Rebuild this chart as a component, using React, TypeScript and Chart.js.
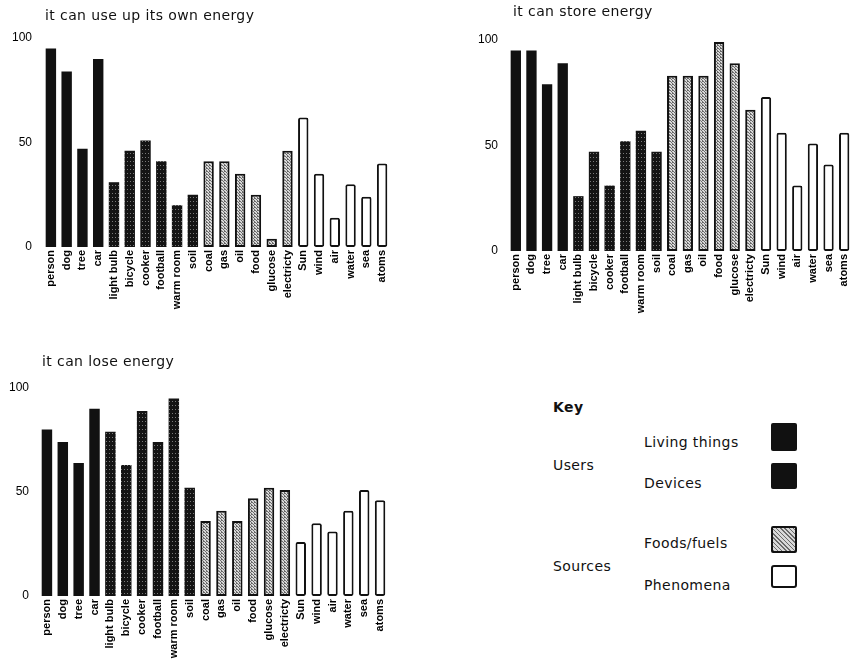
import React, { useEffect, useRef } from 'react';
import { Chart, registerables } from 'chart.js';

Chart.register(...registerables);

const categories = ['person', 'dog', 'tree', 'car', 'light bulb', 'bicycle', 'cooker', 'football', 'warm room', 'soil', 'coal', 'gas', 'oil', 'food', 'glucose', 'electricty', 'Sun', 'wind', 'air', 'water', 'sea', 'atoms'];
const groups = ['living', 'living', 'living', 'living', 'device', 'device', 'device', 'device', 'device', 'device', 'fuel', 'fuel', 'fuel', 'fuel', 'fuel', 'fuel', 'phenomenon', 'phenomenon', 'phenomenon', 'phenomenon', 'phenomenon', 'phenomenon'];
const useUpValues = [95, 84, 47, 90, 31, 46, 51, 41, 20, 25, 41, 41, 35, 25, 4, 46, 62, 35, 14, 30, 24, 40];
const storeValues = [95, 95, 79, 89, 26, 47, 31, 52, 57, 47, 83, 83, 83, 99, 89, 67, 73, 56, 31, 51, 41, 56];
const loseValues = [80, 74, 64, 90, 79, 63, 89, 74, 95, 52, 36, 41, 36, 47, 52, 51, 26, 35, 31, 41, 51, 46];
const yTicks = [0, 50, 100];
const titles = ['it can use up its own energy', 'it can store energy', 'it can lose energy'];
const keyTitle = 'Key';
const keyGroups = ['Users', 'Sources'];
const keyItems = ['Living things', 'Devices', 'Foods/fuels', 'Phenomena'];

const TEXT_FONT = '"DejaVu Sans", Verdana, sans-serif';
const TICK_FONT = '"Liberation Sans", Arial, sans-serif';

function makePattern(bg: string, dot: string, w: number, h: number, dots: number[][]) {
  const c = document.createElement('canvas');
  c.width = w;
  c.height = h;
  const x = c.getContext('2d')!;
  x.fillStyle = bg;
  x.fillRect(0, 0, w, h);
  x.fillStyle = dot;
  dots.forEach(([a, b]) => x.fillRect(a, b, 1, 1));
  return x.createPattern(c, 'repeat')!;
}

type Box = {
  left: number; top: number; width: number; height: number;
  areaLeft: number; areaRight: number; areaTop: number; areaBottom: number; tickPad: number;
};

function BarChart({ values, box }: { values: number[]; box: Box }) {
  const ref = useRef<HTMLCanvasElement>(null);
  useEffect(() => {
    const canvas = ref.current!;
    const devicePat = makePattern('#141414', '#7a7a7a', 3, 4, [[1, 1]]);
    const fuelPat = makePattern('#d8d8d8', '#6a6a6a', 3, 3, [[0, 0], [1, 1], [2, 2], [2, 0]]);
    const fills = groups.map((g) => (g === 'living' ? '#111111' : g === 'device' ? devicePat : g === 'fuel' ? fuelPat : '#ffffff'));
    const chart = new Chart(canvas, {
      type: 'bar',
      data: {
        labels: categories,
        datasets: [
          {
            data: values,
            backgroundColor: fills as any,
            borderColor: '#111111',
            borderWidth: groups.map((g) => (g === 'fuel' || g === 'phenomenon' ? 2 : 0)),
            borderRadius: groups.map((g) => (g === 'phenomenon' ? 2 : 0)),
            borderSkipped: false,
            categoryPercentage: 1,
            barPercentage: 0.66,
          },
        ],
      },
      options: {
        responsive: false,
        animation: false,
        layout: { padding: { left: 0, top: box.areaTop, right: box.width - box.areaRight, bottom: 0 } },
        plugins: { legend: { display: false }, title: { display: false }, tooltip: { enabled: false } },
        scales: {
          x: {
            grid: { display: false, drawTicks: false },
            border: { display: false },
            ticks: {
              autoSkip: false,
              minRotation: 90,
              maxRotation: 90,
              padding: 3,
              color: '#000',
              font: { family: TICK_FONT, size: 11, weight: 'bold' },
            },
            afterFit: (s: any) => { s.height = box.height - box.areaBottom; },
          },
          y: {
            min: 0,
            max: 100,
            afterBuildTicks: (s: any) => { s.ticks = yTicks.map((v) => ({ value: v })); },
            grid: { display: false, drawTicks: false },
            border: { display: false },
            ticks: { padding: box.tickPad, color: '#000', font: { family: TICK_FONT, size: 12 } },
            afterFit: (s: any) => { s.width = box.areaLeft; },
          },
        },
      } as any,
    });
    return () => chart.destroy();
  }, [values, box]);
  return (
    <canvas
      ref={ref}
      width={box.width}
      height={box.height}
      style={{ position: 'absolute', left: box.left, top: box.top, display: 'block' }}
    />
  );
}

const box1: Box = { left: 0, top: 0, width: 430, height: 330, areaLeft: 43, areaRight: 390, areaTop: 38, areaBottom: 247, tickPad: 11 };
const box2: Box = { left: 430, top: 0, width: 432, height: 330, areaLeft: 78, areaRight: 422, areaTop: 40, areaBottom: 251, tickPad: 10 };
const box3: Box = { left: 0, top: 340, width: 430, height: 326, areaLeft: 39, areaRight: 388, areaTop: 48, areaBottom: 256, tickPad: 10 };

function Label({ text, left, top, bold }: { text: string; left: number; top: number; bold?: boolean }) {
  return (
    <div
      style={{
        position: 'absolute',
        left,
        top,
        fontFamily: TEXT_FONT,
        fontSize: 14,
        lineHeight: '14px',
        letterSpacing: '0.4px',
        fontWeight: bold ? 700 : 400,
        color: '#111',
        whiteSpace: 'nowrap',
      }}
    >
      {text}
    </div>
  );
}

function Swatch({ left, top, w, h, kind }: { left: number; top: number; w: number; h: number; kind: string }) {
  const style: React.CSSProperties = { position: 'absolute', left, top, width: w, height: h, boxSizing: 'border-box', borderRadius: 2 };
  if (kind === 'solid') style.background = '#111';
  if (kind === 'fuel') {
    style.border = '2px solid #111';
    style.background = 'repeating-linear-gradient(45deg, #6a6a6a 0px, #6a6a6a 1px, #d8d8d8 1px, #d8d8d8 3px)';
  }
  if (kind === 'open') {
    style.border = '2px solid #111';
    style.background = '#fff';
    style.borderRadius = 3;
  }
  return <div style={style} />;
}

export default function App() {
  return (
    <div style={{ position: 'absolute', left: 0, top: 0, width: 862, height: 666, background: '#fff', overflow: 'hidden' }}>
      <BarChart values={useUpValues} box={box1} />
      <BarChart values={storeValues} box={box2} />
      <BarChart values={loseValues} box={box3} />
      <Label text={titles[0]} left={45} top={8} />
      <Label text={titles[1]} left={513} top={4} />
      <Label text={titles[2]} left={42} top={354} />
      <Label text={keyTitle} left={553} top={400} bold />
      <Label text={keyItems[0]} left={644} top={435} />
      <Label text={keyGroups[0]} left={553} top={458} />
      <Label text={keyItems[1]} left={644} top={476} />
      <Label text={keyItems[2]} left={644} top={536} />
      <Label text={keyGroups[1]} left={553} top={559} />
      <Label text={keyItems[3]} left={644} top={578} />
      <Swatch left={771} top={423} w={26} h={28} kind="solid" />
      <Swatch left={771} top={463} w={26} h={26} kind="solid" />
      <Swatch left={771} top={526} w={26} h={27} kind="fuel" />
      <Swatch left={771} top={565} w={26} h={23} kind="open" />
    </div>
  );
}
